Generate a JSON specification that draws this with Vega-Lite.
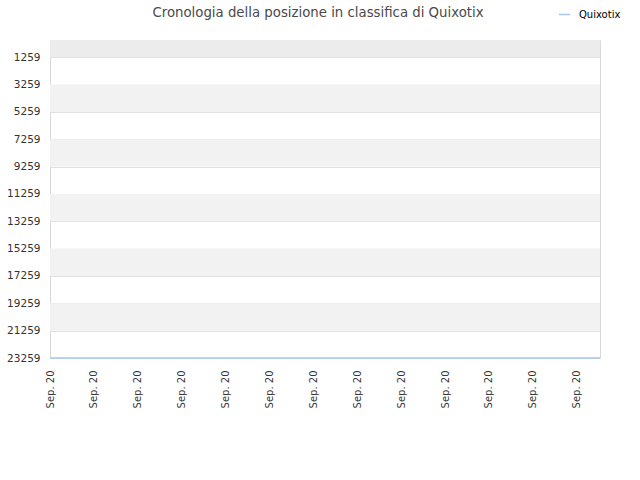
{
  "$schema": "https://vega.github.io/schema/vega-lite/v6.json",
  "autosize": {"type": "none"},
  "width": 550,
  "height": 318,
  "padding": {"left": 50, "top": 40, "right": 40, "bottom": 122},
  "background": "white",
  "config": {
    "font": "DejaVu Sans",
    "view": {"stroke": "#d8d8d8", "strokeWidth": 1},
    "axisY": {
      "grid": true,
      "gridColor": "#e0e0e0",
      "domain": false,
      "ticks": false,
      "labelPadding": 10,
      "labelFontSize": 10.5,
      "labelColor": "#333333",
      "labelFont": "DejaVu Sans",
      "labelBound": false,
      "labelFlush": false,
      "labelOverlap": false,
      "zindex": 1
    }
  },
  "title": {
    "text": "Cronologia della posizione in classifica di Quixotix",
    "fontSize": 13.3,
    "fontWeight": "normal",
    "color": "#4a4a4a",
    "anchor": "middle",
    "dx": -7,
    "offset": 0,
    "dy": 11,
    "font": "DejaVu Sans"
  },
  "datasets": {
    "bands": [
      {"from": 1, "to": 1259, "kind": "top"},
      {"from": 3259, "to": 5259, "kind": "band"},
      {"from": 7259, "to": 9259, "kind": "band"},
      {"from": 11259, "to": 13259, "kind": "band"},
      {"from": 15259, "to": 17259, "kind": "band"},
      {"from": 19259, "to": 21259, "kind": "band"}
    ],
    "ranks": [
      {"date": "2020-09-08T00:00:00Z", "rank": 23259, "artist": "Quixotix"},
      {"date": "2020-09-10T00:00:00Z", "rank": 23259, "artist": "Quixotix"},
      {"date": "2020-09-12T00:00:00Z", "rank": 23259, "artist": "Quixotix"},
      {"date": "2020-09-14T00:00:00Z", "rank": 23259, "artist": "Quixotix"},
      {"date": "2020-09-16T00:00:00Z", "rank": 23259, "artist": "Quixotix"},
      {"date": "2020-09-18T00:00:00Z", "rank": 23259, "artist": "Quixotix"},
      {"date": "2020-09-20T12:45:00Z", "rank": 23259, "artist": "Quixotix"}
    ]
  },
  "layer": [
    {
      "data": {"name": "bands"},
      "mark": {"type": "rect"},
      "encoding": {
        "y": {
          "field": "from",
          "type": "quantitative",
          "scale": {"domain": [1, 23259], "reverse": true, "nice": false, "zero": false},
          "axis": {
            "title": null,
            "values": [1259, 3259, 5259, 7259, 9259, 11259, 13259, 15259, 17259, 19259, 21259, 23259],
            "format": "d",
            "labelOverlap": false
          }
        },
        "y2": {"field": "to"},
        "color": {"field": "kind", "type": "nominal", "scale": {"domain": ["top", "band"], "range": ["#ececec", "#f2f2f2"]}, "legend": null}
      }
    },
    {
      "data": {"name": "ranks"},
      "mark": {"type": "line", "strokeWidth": 1.5, "clip": false},
      "encoding": {
        "x": {
          "field": "date",
          "type": "temporal",
          "scale": {"type": "utc", "domain": [{"year": 2020, "month": 9, "date": 8, "utc": true}, {"year": 2020, "month": 9, "date": 20, "hours": 12, "minutes": 45, "utc": true}], "nice": false},
          "axis": {
            "title": null,
            "grid": false,
            "domain": false,
            "ticks": false,
            "labelAngle": -90,
            "labelPadding": 12,
            "labelFontSize": 10,
            "labelColor": "#333333",
            "labelFont": "DejaVu Sans",
            "labelExpr": "utcFormat(datum.value, '%b. %y')",
            "labelOverlap": false,
            "labelBound": false,
            "labelFlush": false,
            "values": [
              {"year": 2020, "month": 9, "date": 8, "utc": true},
              {"year": 2020, "month": 9, "date": 9, "utc": true},
              {"year": 2020, "month": 9, "date": 10, "utc": true},
              {"year": 2020, "month": 9, "date": 11, "utc": true},
              {"year": 2020, "month": 9, "date": 12, "utc": true},
              {"year": 2020, "month": 9, "date": 13, "utc": true},
              {"year": 2020, "month": 9, "date": 14, "utc": true},
              {"year": 2020, "month": 9, "date": 15, "utc": true},
              {"year": 2020, "month": 9, "date": 16, "utc": true},
              {"year": 2020, "month": 9, "date": 17, "utc": true},
              {"year": 2020, "month": 9, "date": 18, "utc": true},
              {"year": 2020, "month": 9, "date": 19, "utc": true},
              {"year": 2020, "month": 9, "date": 20, "utc": true}
            ]
          }
        },
        "y": {
          "field": "rank",
          "type": "quantitative",
          "axis": {
            "title": null,
            "values": [1259, 3259, 5259, 7259, 9259, 11259, 13259, 15259, 17259, 19259, 21259, 23259],
            "format": "d",
            "labelOverlap": false
          }
        },
        "stroke": {
          "field": "artist",
          "type": "nominal",
          "scale": {"range": ["#a6c8ee"]},
          "legend": {
            "title": null,
            "orient": "none",
            "legendX": 508,
            "legendY": -32,
            "symbolType": "stroke",
            "symbolSize": 120,
            "symbolStrokeWidth": 1.5,
            "labelFontSize": 10,
            "labelColor": "#000000",
            "labelFont": "DejaVu Sans",
            "labelOffset": 8
          }
        }
      }
    }
  ]
}
